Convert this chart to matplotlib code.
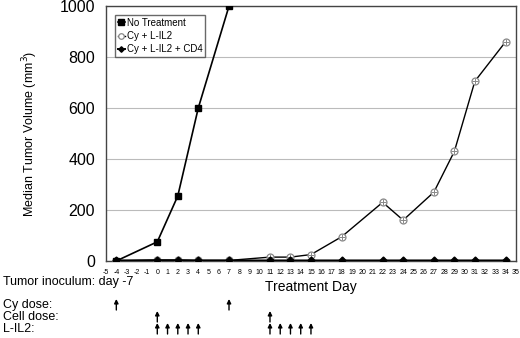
import matplotlib.pyplot as plt
import matplotlib.transforms as mtransforms

days_nt = [-4, 0, 2, 4, 7]
vol_nt = [0, 75, 255, 600, 1000]

days_il2 = [-4, 0, 2, 4, 7, 11, 13, 15, 18, 22, 24, 27, 29, 31, 34]
vol_il2 = [0, 3, 3, 2, 2, 15, 15, 25, 95, 230, 160, 270, 430, 705, 860]

days_cd4 = [-4, 0, 2, 4, 7, 11, 13, 15, 18, 22, 24, 27, 29, 31, 34]
vol_cd4 = [2, 3, 3, 2, 2, 2, 2, 2, 2, 2, 2, 2, 2, 2, 2]

schedule_labels = ["Tumor inoculum: day -7", "Cy dose:", "Cell dose:", "L-IL2:"]
cy_days = [-4, 7]
cell_days = [0, 11]
il2_days = [0, 1, 2, 3, 4, 11, 12, 13, 14, 15]

plt.rcParams["font.family"] = ["Liberation Sans", "DejaVu Sans"]
plt.rcParams["axes.unicode_minus"] = False

fig = plt.figure(figsize=(5.2, 3.38), dpi=100)
ax = fig.add_axes([0.204, 0.228, 0.788, 0.754])

ax.plot(days_nt, vol_nt, color="black", lw=1.2, marker="s", ms=5, label="No Treatment", zorder=4)
ax.plot(days_il2, vol_il2, color="black", lw=1.0, marker="o", ms=5, mfc="white",
        mec="#888888", mew=0.9, label="Cy + L-IL2", zorder=3)
ax.plot(days_il2, vol_il2, ls="none", marker="+", ms=5, color="#888888", mew=0.7, zorder=3.5)
ax.plot(days_cd4, vol_cd4, color="black", lw=1.4, marker="D", ms=3.5, label="Cy + L-IL2 + CD4", zorder=5)

ax.set_xlim(-5, 35)
ax.set_ylim(0, 1000)
ax.set_xticks(range(-5, 36))
ax.tick_params(axis="x", length=0, labelsize=5, pad=6)
ax.tick_params(axis="y", length=0, labelsize=11.5, pad=8)
ax.set_yticks([0, 200, 400, 600, 800, 1000])
ax.yaxis.grid(True, color="#bbbbbb", lw=0.8)
ax.set_axisbelow(True)
for s in ax.spines.values():
    s.set_color("#444444")
    s.set_linewidth(1.0)

ax.set_ylabel("Median Tumor Volume (mm$^3$)", fontsize=9, labelpad=14)
ax.set_xlabel("Treatment Day", fontsize=10, labelpad=3)

ax.legend(loc="upper left", fontsize=7, frameon=True, fancybox=False, edgecolor="#444444",
          handlelength=0.7, handletextpad=0.2, borderpad=0.3, labelspacing=0.35, markerscale=0.8,
          bbox_to_anchor=(0.01, 0.985))

# treatment schedule text
label_y = [282, 305, 317, 329]
for txt, py in zip(schedule_labels, label_y):
    fig.text(3 / 520, 1 - py / 338, txt, fontsize=9, va="center", ha="left")

trans = mtransforms.blended_transform_factory(ax.transData, fig.transFigure)
rows = [(cy_days, 305), (cell_days, 317), (il2_days, 329)]
for days, py in rows:
    for d in days:
        y0 = 1 - (py + 5) / 338
        y1 = 1 - (py - 6) / 338
        ax.annotate("", xy=(d, y1), xytext=(d, y0), xycoords=trans, textcoords=trans,
                    arrowprops=dict(arrowstyle="-|>", color="black", lw=1.0,
                                    mutation_scale=6, shrinkA=0, shrinkB=0),
                    annotation_clip=False)

fig.savefig("out.png", dpi=100)
